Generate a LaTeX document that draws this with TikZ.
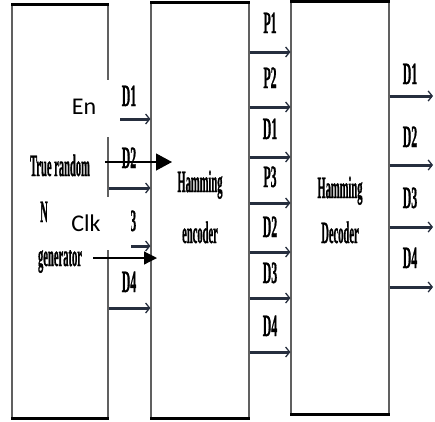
\documentclass[tikz,border=0pt]{standalone}
\usepackage{graphicx}
\usepackage{fontspec}
\setmainfont{Liberation Serif}
\newfontfamily\cndfont[FakeBold=1.3]{Liberation Serif Bold}
\newfontfamily\calfont{Carlito}
\usetikzlibrary{arrows.meta}
\newcommand\cnd[1]{\scalebox{0.38}[1]{\cndfont\fontsize{31}{31}\selectfont #1}}
\newcommand\cndb[1]{\scalebox{0.34}[1]{\cndfont\fontsize{31}{31}\selectfont #1}}
\definecolor{sigcol}{RGB}{38,46,62}
\tikzset{
  blk/.style={draw=gray!75!black, line width=1.1pt, inner sep=0pt},
  edge/.style={line width=3.4pt, black, line cap=butt},
  sig/.style={draw=sigcol, line width=3pt, -{Straight Barb[length=4pt,width=10pt,line width=1.3pt]}},
  lbl/.style={inner sep=0pt, anchor=base},
  wbox/.style={fill=white, draw=none, inner sep=0pt},
  ovl/.style={inner sep=0pt, font=\calfont\fontsize{24}{24}\selectfont},
  bigarr/.style={line width=1.2pt, black, -{Triangle[length=16pt,width=17pt]}},
  smallarr/.style={line width=1.2pt, black, -{Triangle[length=13pt,width=13pt]}}
}
\begin{document}
\begin{tikzpicture}[x=1pt,y=-1pt]
\useasboundingbox (0,0) rectangle (435,421);
% blocks
\node[blk, minimum width=96pt, minimum height=413pt] (gen) at (60,211.5) {};
\node[blk, minimum width=98pt, minimum height=415pt] (enc) at (200,210.5) {};
\node[blk, minimum width=98pt, minimum height=412pt] (dec) at (340,208) {};
\foreach \b in {gen,enc,dec}{
  \draw[edge] (\b.north west) -- (\b.north east);
  \draw[edge] (\b.south west) -- (\b.south east);
}
% block texts
\node[lbl] (t1) at (60,176) {\cndb{True random}};
\node[lbl, anchor=base west] (t2) at (40,222) {\cndb{N}};
\node[lbl] (t3) at (60,266) {\cndb{generator}};
\node[lbl] (t4) at (200,192) {\cndb{Hamming}};
\node[lbl] (t5) at (200,243) {\cndb{encoder}};
\node[lbl] (t6) at (340,198) {\cndb{Hamming}};
\node[lbl] (t7) at (340,243) {\cndb{Decoder}};
% generator -> encoder
\foreach \y/\t/\ly in {119/D1/106, 188/D2/168, 246/D3/231, 308/D4/292}{
  \draw[sig] (gen.east |- 0,\y) -- (enc.west |- 0,\y);
  \node[lbl] at (129,\ly) {\cnd{\t}};
}
% encoder -> decoder
\foreach \y/\t/\ly in {52/P1/33, 107/P2/88, 157/D1/139, 203/P3/187, 252/D2/237, 298/D3/283, 352/D4/336}{
  \draw[sig] (enc.east |- 0,\y) -- (dec.west |- 0,\y);
  \node[lbl] at (270,\ly) {\cnd{\t}};
}
% decoder outputs
\foreach \y/\t/\ly/\n in {96/D1/84/a, 165/D2/147/b, 227/D3/208/c, 287/D4/268/d}{
  \coordinate (out\n) at (433,\y);
  \draw[sig] (dec.east |- out\n) -- (out\n);
  \node[lbl] at (410,\ly) {\cnd{\t}};
}
% overlay boxes
\node[wbox, minimum width=60pt, minimum height=57pt] (enbox) at (90,108.5) {};
\node[ovl] (en) at (84,107) {En};
\node[wbox, minimum width=79pt, minimum height=53pt] (clkbox) at (91.5,223.5) {};
\node[ovl] (clk) at (86,223) {Clk};
\coordinate (enS) at (105,162);
\coordinate (enT) at (172,162);
\coordinate (clkS) at (93,258);
\coordinate (clkT) at (157,258);
\draw[bigarr] (enS) -- (enT);
\draw[smallarr] (clkS) -- (clkT);
\end{tikzpicture}
\end{document}
